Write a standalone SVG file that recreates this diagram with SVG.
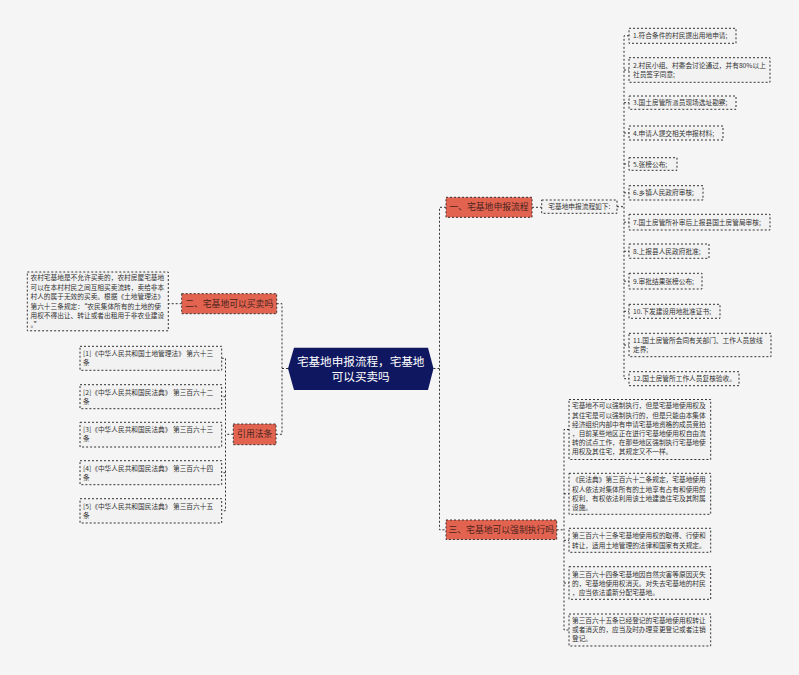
<svg xmlns="http://www.w3.org/2000/svg" width="799" height="675" viewBox="0 0 799 675">
<style>
.bg{fill:#f5f5f5}
.ln{fill:none;stroke:#333;stroke-width:1;stroke-dasharray:2 2}
.box{fill:#f2f2f2;stroke:#333;stroke-width:1;stroke-dasharray:2 2}
.br{fill:#e2634f;stroke:#333;stroke-width:1;stroke-dasharray:2 2}
.t{font-family:"Noto Sans CJK SC","Noto Sans",sans-serif;font-size:6.7px;fill:#333}
.bt{font-family:"Noto Sans CJK SC","Noto Sans",sans-serif;font-size:8.8px;fill:#4a2420;text-anchor:middle}
.ct{font-family:"Noto Sans CJK SC","Noto Sans",sans-serif;font-size:11.6px;fill:#fff;text-anchor:middle}
</style>
<rect class="bg" x="0" y="0" width="799" height="675"/>
<g id="connectors">
<path class="ln" d="M433.5 368.5H439.5M446 207.3H439.5V529.8H446"/>
<path class="ln" d="M288 368.5H282M276.7 303.7H282V434.3H276"/>
<path class="ln" d="M532 207.3H541.7"/>
<path class="ln" d="M617 206.7H624M629 35.8H624V378.7H629M624 70H629M624 102.7H629M624 133H629M624 164H629M624 192.8H629M624 222.2H629M624 251.2H629M624 281.2H629M624 311.3H629M624 345H629"/>
<path class="ln" d="M556.7 529.8H564M569 429.5H564V630H569M564 493.8H569M564 540.3H569M564 583H569"/>
<path class="ln" d="M181.7 303.7H168.3"/>
<path class="ln" d="M233.3 434.3H225.5M221.7 358.3H225.5V510.8H221.7M225.5 396.7H221.7M225.5 472.7H221.7"/>
</g>
<g id="center">
<polygon points="288,368.5 294,347.7 428,347.7 433.5,368.5 428,390 294,390" fill="#0f1760"/>
<text class="ct" x="360.7" y="365.6">宅基地申报流程，宅基地</text>
<text class="ct" x="360.7" y="380.8">可以买卖吗</text>
</g>
<g id="b1">
<rect class="br" x="446" y="197.3" width="86" height="20"/>
<text class="bt" x="489" y="210.4">一、宅基地申报流程</text>
</g>
<g id="b2">
<rect class="br" x="181.7" y="293.7" width="95" height="20"/>
<text class="bt" x="229.2" y="306.8">二、宅基地可以买卖吗</text>
</g>
<g id="b3">
<rect class="br" x="446" y="520" width="110.7" height="19.5"/>
<text class="bt" x="501.3" y="532.9">三、宅基地可以强制执行吗</text>
</g>
<g id="b4">
<rect class="br" x="233.3" y="424" width="42.7" height="20.7"/>
<text class="bt" x="254.7" y="437.4">引用法条</text>
</g>
<g id="flow">
<rect class="box" x="541.7" y="200" width="75.3" height="13.3"/>
<text class="t" x="579.3" y="209.1" text-anchor="middle">宅基地申报流程如下:</text>
</g>
<g id="s1"><rect class="box" x="629" y="28.3" width="107" height="15"/><text class="t" x="633" y="38.4">1.符合条件的村民提出用地申请;</text></g>
<g id="s2"><rect class="box" x="629" y="57.7" width="141" height="24.6"/><text class="t" x="633" y="68.1">2.村民小组、村委会讨论通过，并有80%以上</text><text class="t" x="633" y="77.4">社员签字同意;</text></g>
<g id="s3"><rect class="box" x="629" y="96" width="107" height="13.3"/><text class="t" x="633" y="105.2">3.国土房管所派员现场选址勘察;</text></g>
<g id="s4"><rect class="box" x="629" y="126" width="94" height="14"/><text class="t" x="633" y="135.5">4.申请人提交相关申报材料;</text></g>
<g id="s5"><rect class="box" x="629" y="157.7" width="48" height="12.6"/><text class="t" x="633" y="166.5">5.张榜公布;</text></g>
<g id="s6"><rect class="box" x="629" y="185.7" width="74" height="14.3"/><text class="t" x="633" y="195.3">6.乡镇人民政府审核;</text></g>
<g id="s7"><rect class="box" x="629" y="214.3" width="141" height="15.7"/><text class="t" x="633" y="224.6">7.国土房管所补审后上报县国土房管局审核;</text></g>
<g id="s8"><rect class="box" x="629" y="244" width="80" height="14.3"/><text class="t" x="633" y="253.6">8.上报县人民政府批准;</text></g>
<g id="s9"><rect class="box" x="629" y="273.3" width="73" height="15.7"/><text class="t" x="633" y="283.6">9.审批结果张榜公布;</text></g>
<g id="s10"><rect class="box" x="629" y="304.3" width="91" height="14"/><text class="t" x="633" y="313.8">10.下发建设用地批准证书;</text></g>
<g id="s11"><rect class="box" x="629" y="333.3" width="142" height="23.4"/><text class="t" x="633" y="343.4">11.国土房管所会同有关部门、工作人员放线</text><text class="t" x="633" y="352.4">定界;</text></g>
<g id="s12"><rect class="box" x="629" y="371.7" width="110" height="14"/><text class="t" x="633" y="381.2">12.国土房管所工作人员复核验收。</text></g>
<g id="c1"><rect class="box" x="569" y="399.5" width="141.7" height="60"/>
<text class="t" x="572" y="408.4">宅基地不可以强制执行，但是宅基地使用权及</text>
<text class="t" x="572" y="417.6">其住宅是可以强制执行的，但是只能由本集体</text>
<text class="t" x="572" y="426.8">经济组织内部中有申请宅基地资格的成员竞拍</text>
<text class="t" x="572" y="436">，目前某些地区正在进行宅基地使用权自由流</text>
<text class="t" x="572" y="445.2">转的试点工作，在那些地区强制执行宅基地使</text>
<text class="t" x="572" y="454.4">用权及其住宅，其规定又不一样。</text></g>
<g id="c2"><rect class="box" x="569" y="473.3" width="141.7" height="41"/>
<text class="t" x="572" y="482.4">《民法典》第三百六十二条规定，宅基地使用</text>
<text class="t" x="572" y="491.5">权人依法对集体所有的土地享有占有和使用的</text>
<text class="t" x="572" y="500.6">权利，有权依法利用该土地建造住宅及其附属</text>
<text class="t" x="572" y="509.7">设施。</text></g>
<g id="c3"><rect class="box" x="569" y="528.3" width="141.7" height="24"/>
<text class="t" x="572" y="538.4">第三百六十三条宅基地使用权的取得、行使和</text>
<text class="t" x="572" y="547.5">转让，适用土地管理的法律和国家有关规定。</text></g>
<g id="c4"><rect class="box" x="569" y="566.7" width="141.7" height="32.6"/>
<text class="t" x="572" y="576.7">第三百六十四条宅基地因自然灾害等原因灭失</text>
<text class="t" x="572" y="585.8">的，宅基地使用权消灭。对失去宅基地的村民</text>
<text class="t" x="572" y="594.9">，应当依法重新分配宅基地。</text></g>
<g id="c5"><rect class="box" x="569" y="614" width="141.7" height="32"/>
<text class="t" x="572" y="623.1">第三百六十五条已经登记的宅基地使用权转让</text>
<text class="t" x="572" y="632.1">或者消灭的，应当及时办理变更登记或者注销</text>
<text class="t" x="572" y="641.1">登记。</text></g>
<g id="l1"><rect class="box" x="27.3" y="272" width="141" height="58.8"/>
<text class="t" x="30.5" y="280.4">农村宅基地是不允许买卖的，农村房屋宅基地</text>
<text class="t" x="30.5" y="289.8">可以在本村村民之间互相买卖流转，卖给非本</text>
<text class="t" x="30.5" y="299.2">村人的属于无效的买卖。根据《土地管理法》</text>
<text class="t" x="30.5" y="308.6">第六十三条规定：“农民集体所有的土地的使</text>
<text class="t" x="30.5" y="318">用权不得出让、转让或者出租用于非农业建设</text>
<text class="t" x="30.5" y="327.4">。”</text></g>
<g id="r1"><rect class="box" x="80" y="346.3" width="141.7" height="24"/><text class="t" x="83" y="356.1">[1]《中华人民共和国土地管理法》 第六十三</text><text class="t" x="83" y="365.4">条</text></g>
<g id="r2"><rect class="box" x="80" y="384.7" width="141.7" height="24"/><text class="t" x="83" y="394.5">[2]《中华人民共和国民法典》 第三百六十二</text><text class="t" x="83" y="403.8">条</text></g>
<g id="r3"><rect class="box" x="80" y="422.3" width="141.7" height="24.7"/><text class="t" x="83" y="432.1">[3]《中华人民共和国民法典》 第三百六十三</text><text class="t" x="83" y="441.4">条</text></g>
<g id="r4"><rect class="box" x="80" y="460.7" width="141.7" height="24"/><text class="t" x="83" y="470.5">[4]《中华人民共和国民法典》 第三百六十四</text><text class="t" x="83" y="479.8">条</text></g>
<g id="r5"><rect class="box" x="80" y="498.7" width="141.7" height="24.3"/><text class="t" x="83" y="508.5">[5]《中华人民共和国民法典》 第三百六十五</text><text class="t" x="83" y="517.8">条</text></g>
</svg>
